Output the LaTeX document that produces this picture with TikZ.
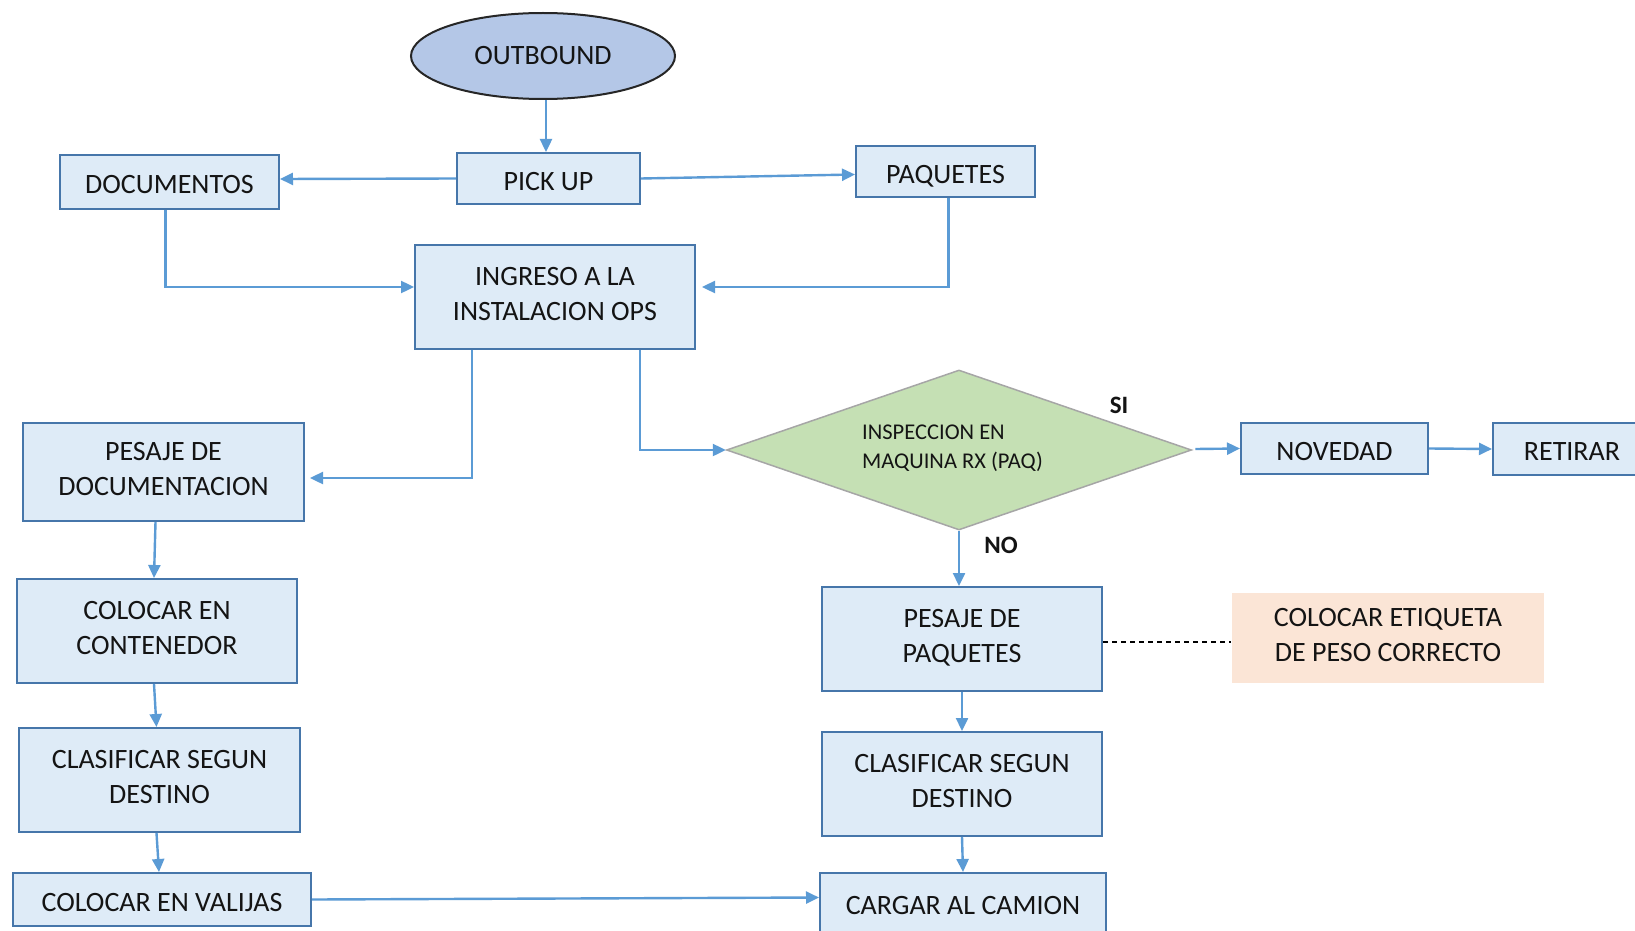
\documentclass[tikz,border=0pt]{standalone}
\usepackage{fontspec}
\setmainfont{Carlito}
\usetikzlibrary{shapes.geometric,arrows.meta,calc}
\definecolor{boxfill}{HTML}{DEEBF7}
\definecolor{boxline}{HTML}{4676AA}
\definecolor{arrowc}{HTML}{5B9BD5}
\definecolor{ellfill}{HTML}{B4C7E7}
\definecolor{diafill}{HTML}{C5E0B4}
\definecolor{dialine}{HTML}{A6A6A6}
\definecolor{peach}{HTML}{FBE5D6}
\definecolor{txt}{HTML}{141414}
\tikzset{
  box/.style={draw=boxline, fill=boxfill, line width=2pt, align=center, text=txt,
    font=\fontsize{28}{35}\selectfont, inner sep=0pt},
  oneline/.style={text height=23pt, text depth=0pt},
  twoline/.style={text depth=6pt},
  flow/.style={draw=arrowc, line width=2.4pt, -{Triangle[length=13pt,width=12pt]}},
  lbl/.style={font=\bfseries\fontsize{25}{30}\selectfont, text=txt}
}
\begin{document}
\begin{tikzpicture}[x=1pt,y=-1pt]
\useasboundingbox (0,0) rectangle (1635,931);
\clip (0,0) rectangle (1635,931);
\fill[white] (0,0) rectangle (1635,931);

\node[ellipse, draw=black!85, fill=ellfill, line width=2pt, minimum width=264pt, minimum height=86pt,
  text=txt, font=\fontsize{28}{35}\selectfont, inner sep=0pt] (outb) at (543,56) {OUTBOUND};

\node[box, oneline, minimum width=183pt, minimum height=51pt] (pick) at (548.5,178.5) {PICK UP};
\node[box, oneline, minimum width=219pt, minimum height=54pt] (docs) at (169.5,182) {DOCUMENTOS};
\node[box, oneline, minimum width=179pt, minimum height=51pt] (paq) at (945.5,171.5) {PAQUETES};
\node[box, twoline, minimum width=280pt, minimum height=104pt] (ing) at (555,297) {INGRESO A LA\\INSTALACION OPS};

\node[box, twoline, minimum width=281pt, minimum height=98pt] (pesdoc) at (163.5,472) {PESAJE DE\\DOCUMENTACION};
\node[box, twoline, minimum width=280pt, minimum height=104pt] (cont) at (157,631) {COLOCAR EN\\CONTENEDOR};
\node[box, twoline, minimum width=281pt, minimum height=104pt] (clasl) at (159.5,780) {CLASIFICAR SEGUN\\DESTINO};
\node[box, oneline, minimum width=298pt, minimum height=53pt] (valij) at (162,899.5) {COLOCAR EN VALIJAS};

\node[diamond, draw=dialine, fill=diafill, line width=1.5pt, minimum width=465pt, minimum height=160pt,
  aspect=2.9, inner sep=0pt] (dia) at (959,450) {};
\node[anchor=west, align=left, text=txt, font=\fontsize{22.5}{29}\selectfont, inner sep=0pt] (diatxt)
  at (862,448) {INSPECCION EN\\MAQUINA RX (PAQ)};

\node[box, oneline, minimum width=187pt, minimum height=51pt] (nov) at (1334.5,448.5) {NOVEDAD};
\node[box, oneline, minimum width=158pt, minimum height=52pt] (ret) at (1572,449) {RETIRAR};

\node[box, twoline, minimum width=280pt, minimum height=104pt] (pespaq) at (962,639) {PESAJE DE\\PAQUETES};
\node[box, twoline, draw=none, fill=peach, minimum width=312pt, minimum height=90pt] (etiq) at (1388,638) {COLOCAR ETIQUETA\\DE PESO CORRECTO};
\node[box, twoline, minimum width=280pt, minimum height=104pt] (clasr) at (962,784) {CLASIFICAR SEGUN\\DESTINO};
\node[box, oneline, minimum width=286pt, minimum height=59pt] (carg) at (963,902.5) {CARGAR AL CAMION};

\node[lbl] (si) at (1119,405) {SI};
\node[lbl] (no) at (1001,545) {NO};

% connectors
\coordinate (o1) at ($(outb.south)+(3,0)$);
\draw[flow] (o1) -- (o1 |- pick.north);
\draw[flow] (pick.west) -- ($(docs.east)+(0,-3)$);
\draw[flow] (pick.east) -- ($(paq.west)+(0,3)$);
\coordinate (d1) at ($(docs.south)+(-4,0)$);
\coordinate (d2) at ($(ing.west)+(0,-10)$);
\draw[flow] (d1) |- (d2);
\coordinate (p1) at ($(paq.south)+(3,0)$);
\coordinate (p2) at ($(ing.east)+(6,-10)$);
\draw[flow] (p1) |- (p2);
\coordinate (i1) at ($(ing.south)+(-83,0)$);
\coordinate (i2) at ($(pesdoc.east)+(5,6)$);
\draw[flow] (i1) |- (i2);
\coordinate (i3) at ($(ing.south)+(85,0)$);
\draw[flow] (i3) |- (dia.west);
\coordinate (e1) at ($(dia.east)+(3,-1)$);
\draw[flow] (e1) -- (nov.west);
\draw[flow] (nov.east) -- (ret.west);
\draw[flow] (dia.south) -- (dia.south |- pespaq.north);
\coordinate (s1) at ($(pespaq.east)+(0,3)$);
\coordinate (s2) at ($(etiq.west)+(0,4)$);
\draw[black, line width=1.5pt, dash pattern=on 5pt off 4pt] (s1) -- (s2);
\draw[flow] (pespaq.south) -- (clasr.north);
\draw[flow] (clasr.south) -- (carg.north);
\coordinate (l1) at ($(pesdoc.south)+(-8,0)$);
\coordinate (l2) at ($(cont.north)+(-3,0)$);
\draw[flow] (l1) -- (l2);
\coordinate (l3) at ($(cont.south)+(-3,0)$);
\coordinate (l4) at ($(clasl.north)+(-3,0)$);
\draw[flow] (l3) -- (l4);
\coordinate (l5) at ($(clasl.south)+(-3,0)$);
\coordinate (l6) at ($(valij.north)+(-3,0)$);
\draw[flow] (l5) -- (l6);
\coordinate (v1) at ($(carg.west)+(0,-5)$);
\draw[flow] (valij.east) -- (v1);
\end{tikzpicture}
\end{document}
